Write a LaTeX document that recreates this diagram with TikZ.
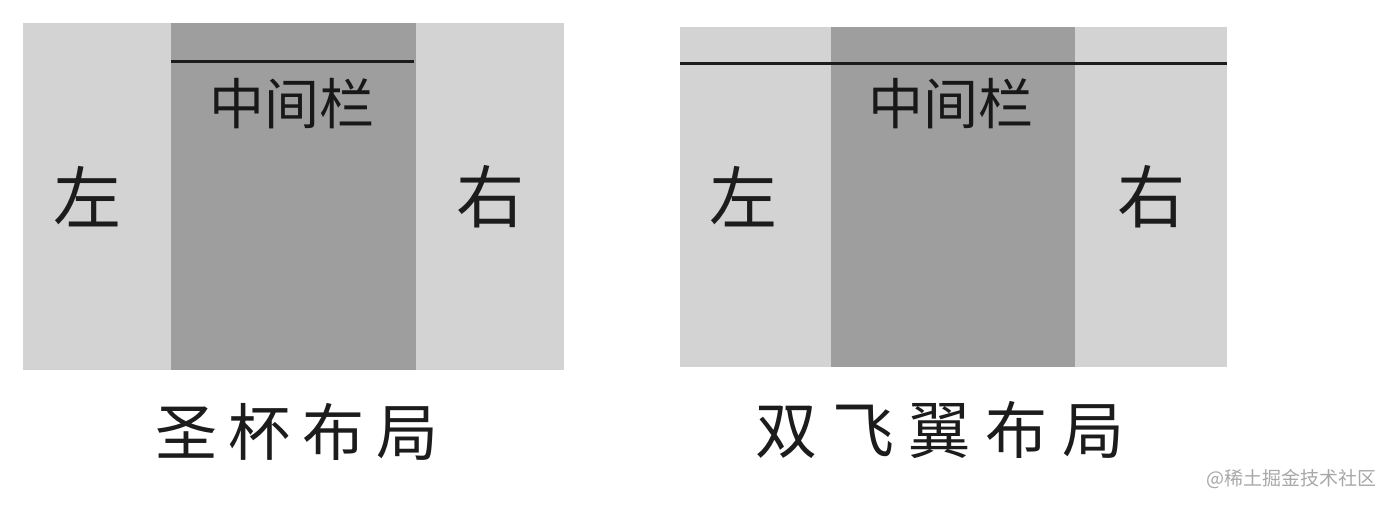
\documentclass[tikz,border=0pt]{standalone}
\usepackage{fontspec}
\setmainfont{Noto Sans CJK SC}
\newfontfamily\cjk{Noto Sans CJK SC}
\definecolor{sidegray}{HTML}{D3D3D3}
\definecolor{midgray}{HTML}{9E9E9E}
\definecolor{inkc}{HTML}{1C1C1C}
\definecolor{wmark}{HTML}{A8A8A8}
\begin{document}
\begin{tikzpicture}[x=1pt,y=-1pt,
  big/.style={inner sep=0pt,text=inkc,font=\cjk\fontsize{68pt}{68pt}\selectfont},
  midlabel/.style={inner sep=0pt,text=inkc!85!black,font=\cjk\fontsize{55pt}{55pt}\selectfont},
  titlea/.style={inner sep=0pt,text=inkc,font=\cjk\addfontfeature{LetterSpace=19}\fontsize{62pt}{62pt}\selectfont},
  titleb/.style={inner sep=0pt,text=inkc,font=\cjk\addfontfeature{LetterSpace=24}\fontsize{62pt}{62pt}\selectfont},
  divider/.style={draw=inkc,line width=3pt}]
\useasboundingbox (0,0) rectangle (1390,504);
\fill[white] (0,0) rectangle (1390,504);
% ---- left diagram: holy grail
\fill[sidegray] (23,23) rectangle (564,370);
\fill[midgray] (171,23) rectangle (416,370);
\coordinate (ha) at (171,61);
\coordinate (hb) at (414,61);
\draw[divider] (ha) -- (hb);
\node[midlabel] (hmid) at (292,104) {中间栏};
\node[big] (hl) at (87,197) {左};
\node[big] (hr) at (490,197) {右};
\node[titlea,anchor=west] (ht) at (155,432) {圣杯布局};
% ---- right diagram: double wing
\fill[sidegray] (680,27) rectangle (1227,367);
\fill[midgray] (831,27) rectangle (1075,367);
\coordinate (da) at (680,63);
\coordinate (db) at (1227,63);
\draw[divider] (da) -- (db);
\node[midlabel] (dmid) at (951,104) {中间栏};
\node[big] (dl) at (743,197) {左};
\node[big] (dr) at (1151,197) {右};
\node[titleb,anchor=west] (dt) at (755,430) {双飞翼布局};
% watermark
\node[inner sep=0pt,text=wmark,font=\cjk\fontsize{19pt}{19pt}\selectfont,anchor=east] (wm) at (1377,479) {@稀土掘金技术社区};
\end{tikzpicture}
\end{document}
